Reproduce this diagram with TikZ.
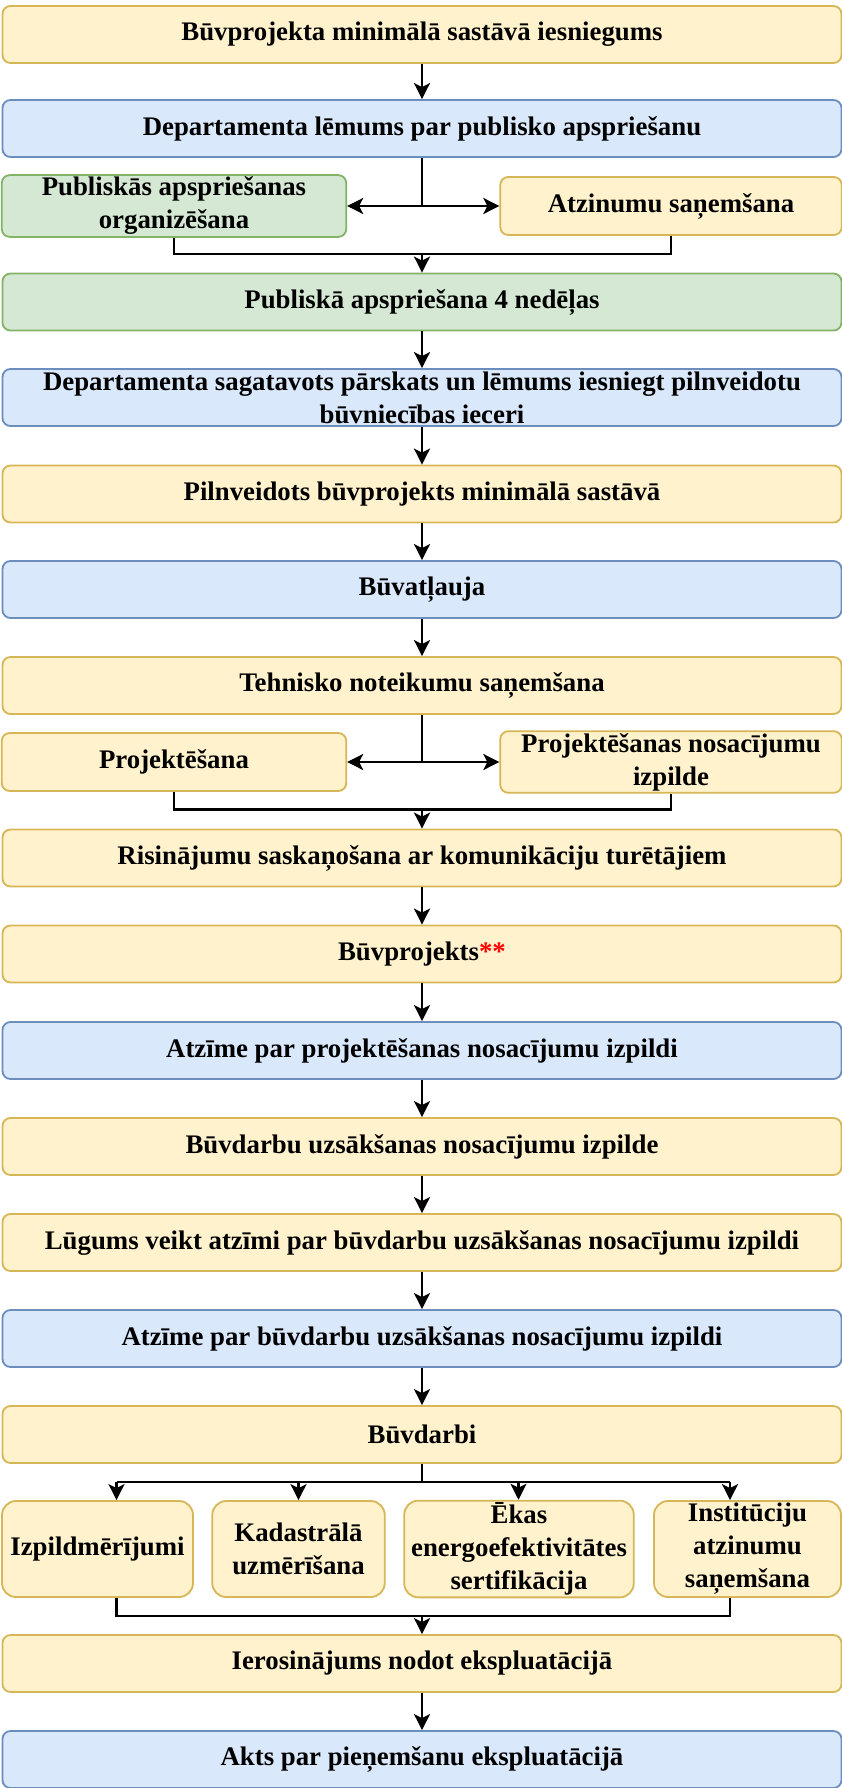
\documentclass[tikz,border=0pt]{standalone}
\usepackage{fontspec}
\setmainfont{Liberation Serif}
\usetikzlibrary{arrows.meta,calc}
\definecolor{yfill}{HTML}{FFF2CC}
\definecolor{ystroke}{HTML}{D6B656}
\definecolor{bfill}{HTML}{DAE8FC}
\definecolor{bstroke}{HTML}{6C8EBF}
\definecolor{gfill}{HTML}{D5E8D4}
\definecolor{gstroke}{HTML}{82B366}
\definecolor{starred}{HTML}{FF0000}
\begin{document}
\begin{tikzpicture}[x=1pt,y=-1pt,
  box/.style={draw, rounded corners=8pt, line width=1.8pt, align=center, inner sep=2pt,
    font=\fontsize{26.8}{33}\selectfont\bfseries, text=black},
  ybox/.style={box, fill=yfill, draw=ystroke},
  bbox/.style={box, fill=bfill, draw=bstroke},
  gbox/.style={box, fill=gfill, draw=gstroke},
  wide/.style={minimum width=839pt, minimum height=57pt},
  half/.style={minimum height=58pt},
  tall/.style={minimum height=96pt, rounded corners=14pt},
  conn/.style={line width=2.6pt, draw=black},
  arr/.style={conn, -{Stealth[length=16pt,width=16pt,inset=4pt]}}
]
\useasboundingbox (0,0) rectangle (842,1788);

% main column
\node[ybox, wide] (b1) at (422,34.5) {Būvprojekta minimālā sastāvā iesniegums};
\node[bbox, wide] (b2) at (422,128.5) {Departamenta lēmums par publisko apspriešanu};
\node[gbox, half, minimum width=344.5pt] (l3) at (174,206) {Publiskās apspriešanas\\organizēšana};
\node[ybox, half, minimum width=341.5pt] (r3) at (671,206) {Atzinumu saņemšana};
\node[gbox, wide] (b4) at (422,302) {Publiskā apspriešana 4 nedēļas};
\node[bbox, wide] (b5) at (422,397.5) {Departamenta sagatavots pārskats un lēmums iesniegt pilnveidotu\\būvniecības ieceri};
\node[ybox, wide] (b6) at (422,494) {Pilnveidots būvprojekts minimālā sastāvā};
\node[bbox, wide] (b7) at (422,589.5) {Būvatļauja};
\node[ybox, wide] (b8) at (422,685.5) {Tehnisko noteikumu saņemšana};
\node[ybox, half, minimum width=344.5pt] (l9) at (174,762) {Projektēšana};
\node[ybox, half, minimum width=341.5pt] (r9) at (671,762) {Projektēšanas nosacījumu\\izpilde};
\node[ybox, wide] (b10) at (422,858) {Risinājumu saskaņošana ar komunikāciju turētājiem};
\node[ybox, wide] (b11) at (422,954) {Būvprojekts\textcolor{starred}{**}};
\node[bbox, wide] (b12) at (422,1050.5) {Atzīme par projektēšanas nosacījumu izpildi};
\node[ybox, wide] (b13) at (422,1146.5) {Būvdarbu uzsākšanas nosacījumu izpilde};
\node[ybox, wide] (b14) at (422,1242.5) {Lūgums veikt atzīmi par būvdarbu uzsākšanas nosacījumu izpildi};
\node[bbox, wide] (b15) at (422,1338.5) {Atzīme par būvdarbu uzsākšanas nosacījumu izpildi};
\node[ybox, wide] (b16) at (422,1434.5) {Būvdarbi};
\node[ybox, tall, minimum width=191pt] (ra) at (97.5,1549) {Izpildmērījumi};
\node[ybox, tall, minimum width=172.5pt] (rb) at (298.5,1549) {Kadastrālā\\uzmērīšana};
\node[ybox, tall, minimum width=229.5pt] (rc) at (519,1549) {Ēkas\\energoefektivitātes\\sertifikācija};
\node[ybox, tall, minimum width=187pt] (rd) at (747.5,1549) {Institūciju\\atzinumu\\saņemšana};
\node[ybox, wide] (b18) at (422,1663.5) {Ierosinājums nodot ekspluatācijā};
\node[bbox, wide] (b19) at (422,1759.5) {Akts par pieņemšanu ekspluatācijā};

% junction coordinates
\coordinate (j3) at (422,206);
\coordinate (m3) at (422,254);
\coordinate (j9) at (422,762);
\coordinate (m9) at (422,809.5);
\coordinate (s17) at (422,1482);
\coordinate (xa) at (116.5,1482);
\coordinate (xb) at (298.5,1482);
\coordinate (xc) at (518.5,1482);
\coordinate (xd) at (730,1482);
\coordinate (m17) at (422,1616);

% connectors
\draw[arr] (b1.south) -- (b2.north);
\draw[conn] (b2.south) -- (j3);
\draw[arr] (j3) -- (l3.east);
\draw[arr] (j3) -- (r3.west);
\draw[conn] (l3.south) |- (m3) -| (r3.south);
\draw[arr] (m3) -- (b4.north);
\draw[arr] (b4.south) -- (b5.north);
\draw[arr] (b5.south) -- (b6.north);
\draw[arr] (b6.south) -- (b7.north);
\draw[arr] (b7.south) -- (b8.north);
\draw[conn] (b8.south) -- (j9);
\draw[arr] (j9) -- (l9.east);
\draw[arr] (j9) -- (r9.west);
\draw[conn] (l9.south) |- (m9) -| (r9.south);
\draw[arr] (m9) -- (b10.north);
\draw[arr] (b10.south) -- (b11.north);
\draw[arr] (b11.south) -- (b12.north);
\draw[arr] (b12.south) -- (b13.north);
\draw[arr] (b13.south) -- (b14.north);
\draw[arr] (b14.south) -- (b15.north);
\draw[arr] (b15.south) -- (b16.north);
\draw[conn] (b16.south) -- (s17);
\draw[conn] (xa) -- (xd);
\draw[arr] (xa) -- (xa |- ra.north);
\draw[arr] (xb) -- (xb |- rb.north);
\draw[arr] (xc) -- (xc |- rc.north);
\draw[arr] (xd) -- (xd |- rd.north);
\draw[conn] (xa |- ra.south) |- (m17) -| (xd |- rd.south);
\draw[arr] (m17) -- (b18.north);
\draw[arr] (b18.south) -- (b19.north);
\end{tikzpicture}
\end{document}
